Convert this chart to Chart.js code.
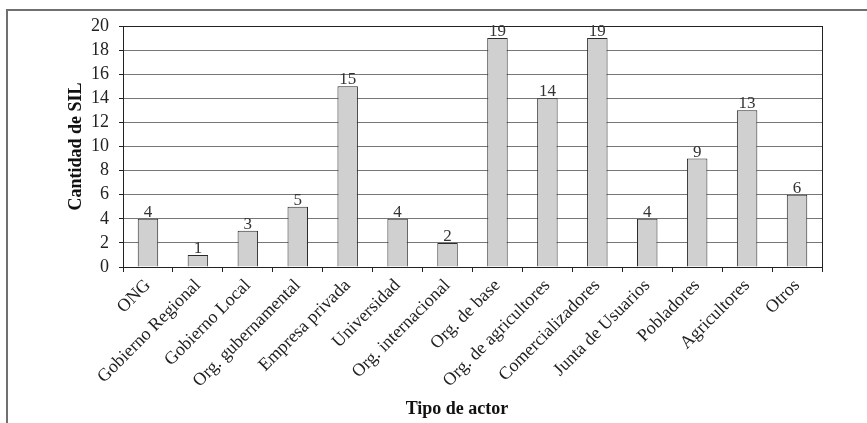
<!DOCTYPE html>
<html>
<head>
<meta charset="utf-8">
<script src="https://cdn.jsdelivr.net/npm/chart.js@4"></script>
<style>
  html, body { margin: 0; padding: 0; background: #fff; }
  #wrap { width: 867px; height: 423px; }
</style>
</head>
<body>
<div id="wrap"><canvas id="c" width="867" height="423"></canvas></div>
<script>
const categories = [
  'ONG', 'Gobierno Regional', 'Gobierno Local', 'Org. gubernamental',
  'Empresa privada', 'Universidad', 'Org. internacional', 'Org. de base',
  'Org. de agricultores', 'Comercializadores', 'Junta de Usuarios',
  'Pobladores', 'Agricultores', 'Otros'
];
const silCounts = [4, 1, 3, 5, 15, 4, 2, 19, 14, 19, 4, 9, 13, 6];
const yTicks = [0, 2, 4, 6, 8, 10, 12, 14, 16, 18, 20];
const yTitle = 'Cantidad de SIL';
const xTitle = 'Tipo de actor';

const SERIF = '"Liberation Serif", "Times New Roman", serif';

// Outer frame, plot box, value labels and axis titles
const decor = {
  id: 'decor',
  beforeDraw(chart) {
    const ctx = chart.ctx;
    ctx.save();
    ctx.strokeStyle = '#707070';
    ctx.lineWidth = 2;
    ctx.beginPath();
    ctx.moveTo(7, 423);
    ctx.lineTo(7, 10);
    ctx.lineTo(867, 10);
    ctx.stroke();
    ctx.restore();
  },
  afterDraw(chart) {
    const ctx = chart.ctx;
    const a = chart.chartArea;
    ctx.save();
    ctx.strokeStyle = '#222';
    ctx.lineWidth = 1;
    ctx.strokeRect(Math.round(a.left) + 0.5, Math.round(a.top) + 0.5,
                   Math.round(a.right - a.left), Math.round(a.bottom - a.top));
    // value labels
    const meta = chart.getDatasetMeta(0);
    ctx.fillStyle = '#333';
    ctx.font = '17px ' + SERIF;
    ctx.textAlign = 'center';
    ctx.textBaseline = 'bottom';
    meta.data.forEach((bar, i) => {
      ctx.fillText(String(silCounts[i]), bar.x, bar.y + 2);
    });
    // axis titles
    ctx.fillStyle = '#111';
    ctx.font = 'bold 18px ' + SERIF;
    ctx.textBaseline = 'middle';
    ctx.fillText(xTitle, 457, 409);
    ctx.translate(76, (a.top + a.bottom) / 2);
    ctx.rotate(-Math.PI / 2);
    ctx.fillText(yTitle, 0, 0);
    ctx.restore();
  }
};

new Chart(document.getElementById('c'), {
  type: 'bar',
  data: {
    labels: categories,
    datasets: [{
      data: silCounts,
      backgroundColor: '#d0d0d0',
      borderColor: '#2a2a2a',
      borderWidth: 1,
      barPercentage: 0.41,
      categoryPercentage: 1
    }]
  },
  options: {
    responsive: false,
    animation: false,
    devicePixelRatio: 1,
    layout: { padding: { top: 26, right: 45, left: 0, bottom: 0 } },
    plugins: { legend: { display: false }, tooltip: { enabled: false } },
    scales: {
      x: {
        afterFit(scale) { scale.height = 156; },
        grid: {
          offset: true,
          drawOnChartArea: false,
          tickLength: 5,
          tickColor: '#222',
          color: '#222'
        },
        border: { color: '#222' },
        ticks: {
          color: '#222',
          autoSkip: false,
          minRotation: 45,
          maxRotation: 45,
          padding: 3,
          font: { family: SERIF, size: 18 }
        }
      },
      y: {
        min: 0,
        max: 20,
        afterFit(scale) { scale.width = 123; },
        afterBuildTicks(scale) { scale.ticks = yTicks.map(v => ({ value: v })); },
        grid: {
          color: '#777',
          lineWidth: 1,
          tickLength: 4,
          tickColor: '#222'
        },
        border: { color: '#222' },
        ticks: {
          color: '#222',
          autoSkip: false,
          padding: 10,
          font: { family: SERIF, size: 18 }
        }
      }
    }
  },
  plugins: [decor]
});
</script>
</body>
</html>
